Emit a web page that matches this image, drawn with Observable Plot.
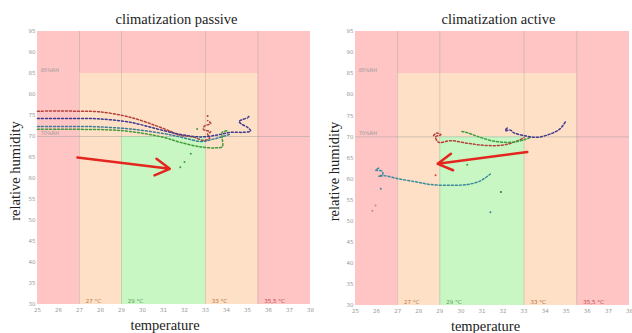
<!DOCTYPE html>
<html>
<head>
<meta charset="utf-8">
<script src="https://cdn.jsdelivr.net/npm/d3@7"></script>
<script src="https://cdn.jsdelivr.net/npm/@observablehq/plot@0.6"></script>
<style>
  html, body { margin: 0; padding: 0; background: #fff; }
  #wrap { position: relative; width: 632px; height: 333px; overflow: hidden; }
  #wrap svg { position: absolute; top: 0; }
</style>
</head>
<body>
<div id="wrap"></div>
<script>
// ---- data ----
const titles = ["climatization passive", "climatization active"];
const xLabel = "temperature";
const yLabel = "relative humidity";
const xTicks = [25, 26, 27, 28, 29, 30, 31, 32, 33, 34, 35, 36, 37, 38];
const yTicks = [30, 35, 40, 45, 50, 55, 60, 65, 70, 75, 80, 85, 90, 95];

// comfort zones
const zoneX1 = [25, 27, 29];
const zoneX2 = [38, 35.5, 33];
const zoneY1 = [30, 30, 30];
const zoneY2 = [95, 85, 70];
const zoneFill = ["#ffc5c5", "#fde0c6", "#c8f7c4"];
const gridX = [27, 29, 33, 35.5];
const gridY = [70];
const tempLabels = ["27 °C", "29 °C", "33 °C", "35,5 °C"];
const tempLabelX = [27, 29, 33, 35.5];
const tempLabelColor = ["#c07848", "#5a9a5a", "#b86a3a", "#c04848"];
const rhLabels = ["85%RH", "70%RH"];
const rhLabelY = [85, 70];

// climatization passive
const passiveRed = [[25,76],[26,76.1],[27,76],[27.9,75.9],[29.4,74.6],[31,71.9],[31.8,70.3],[32.4,69.9],[32.9,69.1],[33.2,69.6],[33.1,70.6],[33.25,71.1],[32.9,71.7],[32.95,72.5],[33.25,73.1],[33.1,73.8]];
const passivePurple = [[25,74.3],[26,74.3],[27,74.3],[27.9,74.2],[29.4,73.4],[31,71.4],[31.8,70.5],[32.8,69.9],[33.6,70.4],[34.2,71.0],[34.8,71.0],[35.15,71.3],[35.0,72.2],[34.7,73.0],[34.6,73.6],[34.75,74.0],[35.0,74.4]];
const passiveBlue = [[25,72.4],[26,72.4],[27,72.4],[27.9,72.3],[29.4,71.8],[31,70.7],[31.8,69.9],[32.8,68.8],[33.3,69.3],[33.7,69.8],[34.2,70.6]];
const passiveGreen = [[25,71.7],[26,71.7],[27,71.7],[28.3,71.6],[29.4,71.2],[31,69.8],[31.8,68.6],[32.8,67.5],[33.5,67.3],[33.8,67.6],[33.8,69.5],[33.8,71.0],[34.1,71.4]];
const passiveDotsX = [32.3, 32.0, 31.8, 32.6, 33.1, 35.05];
const passiveDotsY = [65.9, 63.9, 62.7, 71.8, 74.9, 74.7];
const passiveDotsC = ["#3f9c3a", "#3f9c3a", "#3f9c3a", "#3f9c3a", "#b5403a", "#3f3a8f"];
const passiveArrow = [26.9, 65.0, 31.3, 62.3];

// climatization active
const activeRed = [[28.7,70.3],[28.85,70.9],[29.05,70.5],[28.8,70.0],[28.95,68.7],[29.5,69.1],[30.3,68.5],[31.1,68.0],[31.9,68.0],[32.5,68.7],[33.0,69.8]];
const activeGreen = [[30.05,71.3],[30.3,71.0],[30.8,70.1],[31.55,69.0],[32.35,68.7],[33.0,69.3],[33.3,69.9]];
const activePurple = [[32.2,72.1],[32.1,71.5],[32.35,71.6],[32.5,71.0],[33.0,70.3],[33.6,69.9],[34.25,70.7],[34.7,71.9],[35.0,73.9]];
const activeTeal = [[26.1,62.6],[25.95,62.1],[26.25,61.9],[26.3,61.2],[26.1,60.6],[26.35,60.8],[27.1,60.0],[27.9,59.3],[28.55,58.7],[29.5,58.5],[30.3,58.7],[30.9,59.5],[31.4,61.2]];
const activeDotsX = [26.2, 25.95, 25.8, 28.8, 30.3, 31.9, 31.4];
const activeDotsY = [57.7, 53.7, 52.5, 60.9, 63.4, 56.9, 52.1];
const activeDotsC = ["#3a8a9a", "#d08080", "#d08080", "#d04040", "#3f9c3a", "#2a6a2a", "#3a8a9a"];
const activeArrow = [33.15, 66.4, 28.9, 63.6];

const seriesColors = {red: "#b5403a", purple: "#3f3a8f", blue: "#3d7e96", green: "#3f9c3a", teal: "#3a8a9a"};

// ---- build ----
function rows(name, pts) { return pts.map(([x, y]) => ({series: name, x, y})); }
const zones = zoneX1.map((d, i) => ({x1: zoneX1[i], x2: zoneX2[i], y1: zoneY1[i], y2: zoneY2[i], fill: zoneFill[i]}));
const tempLab = tempLabels.map((t, i) => ({t, x: tempLabelX[i], c: tempLabelColor[i]}));
const rhLab = rhLabels.map((t, i) => ({t, y: rhLabelY[i]}));

function panel(cfg) {
  const lineData = cfg.lines.flatMap(([n, p]) => rows(n, p));
  const dots = cfg.dotsX.map((x, i) => ({x, y: cfg.dotsY[i], c: cfg.dotsC[i]}));
  const [ax1, ay1, ax2, ay2] = cfg.arrow;
  return Plot.plot({
    width: 316, height: 333,
    marginLeft: cfg.ml, marginRight: cfg.mr, marginTop: 31, marginBottom: cfg.mb,
    x: {domain: [25, 38], label: null},
    y: {domain: [30, 95], label: null},
    style: {background: "transparent", fontFamily: "DejaVu Sans", color: "#999", overflow: "visible"},
    marks: [
      Plot.rect(zones, {x1: "x1", x2: "x2", y1: "y1", y2: "y2", fill: "fill"}),
      Plot.ruleX(gridX, {stroke: "#999", strokeOpacity: 0.35}),
      Plot.ruleY(gridY, {stroke: "#999", strokeOpacity: 0.45}),
      Plot.axisX({ticks: xTicks, tickSize: 0, tickPadding: 4, fontSize: 5.5, label: null}),
      Plot.axisY({ticks: yTicks, tickSize: 0, tickPadding: 2, fontSize: 5.5, label: null}),
      Plot.text(tempLab, {x: (d) => d.x + 0.3, y: 30, text: "t", fill: "c", fontSize: 5.5, textAnchor: "start", dy: -3}),
      Plot.text(rhLab, {x: 25.15, y: "y", text: "t", fill: "#999", fontSize: 5, textAnchor: "start", dy: -3}),
      Plot.line(lineData, {x: "x", y: "y", z: "series", stroke: (d) => seriesColors[d.series], strokeWidth: 1.5, strokeDasharray: "2,2", curve: "catmull-rom"}),
      Plot.dot(dots, {x: "x", y: "y", fill: "c", r: 1}),
      Plot.arrow([0], {x1: ax1, y1: ay1, x2: ax2, y2: ay2, stroke: "#e3261e", strokeWidth: 2.5, headLength: 10}),
      Plot.text([cfg.title], {frameAnchor: "top", lineAnchor: "middle", dy: -12, dx: cfg.tdx, fontFamily: "Liberation Serif", fontSize: 14.5, fill: "#222"}),
      Plot.text([yLabel], {frameAnchor: "left", textAnchor: "middle", lineAnchor: "middle", rotate: -90, dx: cfg.ydx, dy: 3, fontFamily: "Liberation Serif", fontSize: 14.5, fill: "#222"}),
      Plot.text([xLabel], {frameAnchor: "bottom", lineAnchor: "middle", dy: cfg.xdy, dx: cfg.xdx, fontFamily: "Liberation Serif", fontSize: 14.5, fill: "#222"})
    ]
  });
}

const left = panel({
  title: titles[0], ml: 37, mr: 6, mb: 29, tdx: 2.5, ydx: -22, xdy: 21, xdx: -9,
  lines: [["red", passiveRed], ["purple", passivePurple], ["blue", passiveBlue], ["green", passiveGreen]],
  dotsX: passiveDotsX, dotsY: passiveDotsY, dotsC: passiveDotsC, arrow: passiveArrow
});
const right = panel({
  title: titles[1], ml: 39, mr: 3, mb: 28, tdx: 6, ydx: -21, xdy: 20.5, xdx: -7,
  lines: [["red", activeRed], ["green", activeGreen], ["purple", activePurple], ["teal", activeTeal]],
  dotsX: activeDotsX, dotsY: activeDotsY, dotsC: activeDotsC, arrow: activeArrow
});
left.style.left = "0px";
right.style.left = "316px";
document.getElementById("wrap").append(left, right);
</script>
</body>
</html>
